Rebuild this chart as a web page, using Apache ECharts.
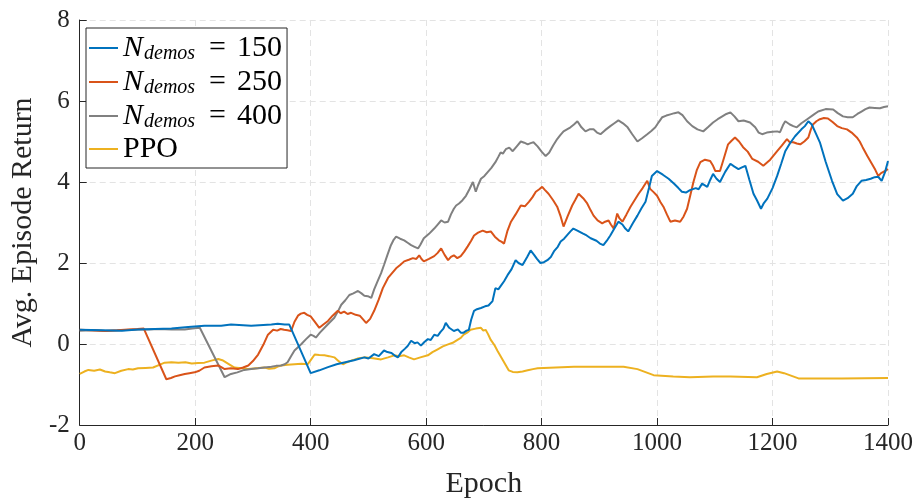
<!DOCTYPE html>
<html>
<head>
<meta charset="utf-8">
<script src="https://cdn.jsdelivr.net/npm/echarts@6/dist/echarts.min.js"></script>
<style>
html,body{margin:0;padding:0;background:#fff;}
#chart{width:920px;height:504px;}
</style>
</head>
<body>
<div id="chart"></div>
<script>
const xTicks = [0, 200, 400, 600, 800, 1000, 1200, 1400];
const yTicks = [-2, 0, 2, 4, 6, 8];
const seriesLabels = ['150', '250', '400', 'PPO'];

const demos150 = [[0,0.35],[40,0.34],[73,0.33],[101,0.36],[130,0.37],[159,0.38],[188,0.42],[216,0.45],[245,0.45],[262,0.48],[297,0.45],[332,0.48],[343,0.50],[355,0.48],[363,0.48],[400,-0.72],[415,-0.65],[430,-0.57],[445,-0.50],[460,-0.45],[475,-0.40],[493,-0.33],[500,-0.36],[510,-0.25],[518,-0.30],[527,-0.16],[533,-0.20],[540,-0.22],[545,-0.28],[551,-0.33],[557,-0.20],[563,-0.12],[568,-0.05],[574,0.08],[580,0.02],[585,0.04],[591,-0.04],[597,0.05],[603,0.12],[608,0.10],[614,0.23],[620,0.20],[625,0.30],[630,0.38],[634,0.52],[640,0.40],[648,0.32],[655,0.36],[660,0.28],[665,0.28],[670,0.33],[674,0.35],[678,0.60],[683,0.82],[688,0.86],[695,0.89],[702,0.93],[708,0.95],[715,1.06],[720,1.38],[725,1.35],[729,1.43],[735,1.55],[741,1.70],[748,1.85],[755,2.07],[760,2.00],[767,1.95],[771,2.05],[775,2.15],[781,2.31],[787,2.20],[792,2.10],[798,2.00],[804,2.02],[810,2.07],[816,2.15],[822,2.30],[828,2.40],[833,2.53],[839,2.60],[845,2.70],[850,2.78],[855,2.85],[862,2.80],[871,2.73],[878,2.68],[885,2.61],[890,2.58],[895,2.55],[901,2.48],[907,2.44],[913,2.55],[919,2.68],[926,2.85],[933,3.02],[940,2.95],[945,2.85],[950,2.78],[958,2.98],[966,3.17],[973,3.35],[980,3.51],[986,3.85],[991,4.15],[1000,4.27],[1010,4.18],[1020,4.08],[1030,3.95],[1037,3.85],[1043,3.76],[1050,3.74],[1057,3.80],[1067,3.85],[1072,3.82],[1078,3.96],[1087,3.88],[1092,4.05],[1097,4.20],[1103,4.08],[1109,4.00],[1118,4.25],[1127,4.45],[1134,4.38],[1141,4.32],[1147,4.36],[1153,4.40],[1160,4.05],[1167,3.71],[1173,3.55],[1180,3.34],[1185,3.48],[1191,3.59],[1200,3.85],[1208,4.15],[1215,4.45],[1222,4.76],[1230,4.95],[1239,5.13],[1250,5.30],[1256,5.38],[1262,5.50],[1268,5.42],[1275,5.20],[1282,4.98],[1292,4.50],[1303,4.03],[1312,3.70],[1322,3.54],[1330,3.60],[1339,3.71],[1346,3.90],[1354,4.03],[1362,4.05],[1370,4.08],[1377,4.12],[1383,4.13],[1389,4.03],[1395,4.25],[1400,4.52]];

const demos250 = [[0,0.35],[20,0.34],[44,0.32],[65,0.34],[84,0.36],[100,0.37],[111,0.38],[150,-0.87],[158,-0.84],[165,-0.80],[173,-0.77],[182,-0.74],[190,-0.72],[199,-0.70],[207,-0.66],[216,-0.58],[228,-0.55],[240,-0.53],[251,-0.62],[262,-0.60],[274,-0.62],[283,-0.58],[292,-0.53],[300,-0.42],[309,-0.26],[318,-0.02],[326,0.23],[335,0.35],[342,0.33],[348,0.37],[354,0.35],[360,0.34],[366,0.32],[372,0.55],[378,0.70],[383,0.75],[389,0.77],[394,0.72],[400,0.68],[407,0.55],[415,0.40],[422,0.48],[430,0.57],[438,0.70],[447,0.82],[452,0.76],[458,0.80],[464,0.74],[470,0.77],[478,0.72],[485,0.70],[490,0.62],[496,0.52],[503,0.62],[510,0.82],[518,1.10],[525,1.38],[534,1.63],[541,1.75],[548,1.87],[555,1.95],[562,2.04],[570,2.08],[577,2.12],[583,2.10],[588,2.19],[592,2.10],[596,2.04],[605,2.10],[614,2.17],[620,2.25],[626,2.36],[632,2.20],[638,2.07],[643,2.15],[648,2.19],[654,2.12],[660,2.17],[666,2.28],[672,2.41],[678,2.55],[683,2.68],[690,2.75],[698,2.80],[705,2.76],[712,2.78],[719,2.65],[726,2.56],[731,2.52],[735,2.48],[741,2.80],[747,3.02],[755,3.20],[764,3.42],[771,3.40],[778,3.51],[784,3.62],[790,3.76],[796,3.82],[801,3.88],[806,3.80],[812,3.71],[820,3.55],[827,3.39],[833,3.15],[838,2.90],[845,3.15],[853,3.42],[858,3.55],[864,3.71],[872,3.60],[879,3.47],[885,3.30],[890,3.17],[897,3.05],[905,2.98],[910,3.02],[916,3.05],[920,2.95],[925,2.85],[931,3.22],[935,3.10],[940,3.02],[947,3.20],[954,3.39],[961,3.55],[968,3.71],[975,3.85],[983,4.03],[988,3.83],[994,3.75],[1000,3.66],[1006,3.50],[1011,3.39],[1017,3.20],[1023,3.02],[1031,3.05],[1040,3.02],[1046,3.15],[1052,3.34],[1058,3.70],[1063,4.00],[1069,4.30],[1075,4.49],[1083,4.55],[1092,4.52],[1097,4.40],[1101,4.27],[1109,4.27],[1116,4.60],[1123,4.93],[1129,5.02],[1135,5.10],[1142,5.00],[1149,4.86],[1157,4.75],[1165,4.57],[1175,4.50],[1184,4.40],[1196,4.55],[1208,4.76],[1216,4.90],[1225,5.06],[1230,4.98],[1236,4.98],[1242,4.95],[1248,4.93],[1255,5.00],[1262,5.10],[1266,5.28],[1270,5.42],[1276,5.50],[1282,5.55],[1289,5.58],[1296,5.57],[1304,5.48],[1312,5.38],[1320,5.33],[1329,5.30],[1337,5.22],[1346,5.10],[1351,5.00],[1356,4.86],[1364,4.65],[1372,4.45],[1378,4.30],[1383,4.15],[1388,4.22],[1392,4.25],[1396,4.28],[1400,4.32]];

const demos400 = [[0,0.33],[22,0.34],[44,0.32],[70,0.34],[101,0.36],[120,0.36],[136,0.37],[159,0.36],[182,0.36],[195,0.38],[208,0.40],[251,-0.82],[262,-0.74],[273,-0.70],[285,-0.64],[297,-0.62],[309,-0.60],[320,-0.58],[332,-0.56],[340,-0.54],[349,-0.53],[355,-0.50],[360,-0.45],[366,-0.30],[372,-0.16],[378,-0.08],[384,0.0],[392,0.12],[400,0.23],[405,0.20],[409,0.16],[416,0.28],[424,0.40],[432,0.52],[441,0.65],[447,0.80],[453,0.97],[460,1.08],[467,1.21],[474,1.25],[482,1.31],[488,1.25],[493,1.19],[499,1.18],[505,1.14],[510,1.35],[516,1.55],[522,1.75],[527,1.95],[533,2.20],[539,2.44],[544,2.58],[548,2.65],[555,2.60],[562,2.56],[568,2.50],[574,2.44],[580,2.40],[586,2.36],[590,2.45],[596,2.61],[605,2.72],[614,2.85],[620,2.95],[626,3.05],[632,3.00],[638,3.02],[643,3.20],[648,3.34],[652,3.42],[657,3.47],[663,3.55],[669,3.66],[675,3.82],[681,4.00],[686,3.76],[690,3.92],[695,4.08],[701,4.15],[707,4.25],[713,4.35],[720,4.49],[725,4.62],[729,4.73],[733,4.70],[738,4.81],[744,4.85],[750,4.76],[757,4.88],[764,5.00],[770,4.97],[776,4.93],[781,4.96],[786,4.98],[793,4.88],[800,4.75],[807,4.64],[813,4.72],[820,4.90],[827,5.06],[832,5.15],[838,5.25],[844,5.30],[850,5.35],[856,5.42],[862,5.50],[869,5.35],[876,5.25],[883,5.30],[890,5.30],[896,5.22],[902,5.18],[910,5.28],[919,5.38],[926,5.45],[933,5.52],[941,5.45],[949,5.35],[957,5.18],[966,5.00],[974,5.08],[983,5.18],[990,5.26],[997,5.35],[1003,5.48],[1009,5.60],[1016,5.64],[1023,5.67],[1030,5.70],[1037,5.72],[1044,5.65],[1052,5.50],[1061,5.38],[1070,5.30],[1080,5.25],[1088,5.35],[1097,5.47],[1105,5.55],[1113,5.62],[1120,5.68],[1127,5.72],[1134,5.62],[1141,5.50],[1150,5.52],[1161,5.47],[1170,5.35],[1176,5.22],[1182,5.18],[1190,5.22],[1200,5.24],[1208,5.25],[1213,5.23],[1218,5.40],[1222,5.50],[1230,5.42],[1236,5.38],[1242,5.35],[1250,5.45],[1260,5.55],[1270,5.65],[1279,5.74],[1292,5.80],[1305,5.79],[1313,5.70],[1322,5.62],[1330,5.60],[1339,5.60],[1347,5.68],[1354,5.74],[1361,5.80],[1368,5.84],[1377,5.83],[1386,5.82],[1393,5.85],[1400,5.87]];

const ppo = [[0,-0.74],[8,-0.68],[15,-0.64],[25,-0.66],[35,-0.63],[44,-0.68],[52,-0.70],[61,-0.72],[72,-0.66],[84,-0.62],[92,-0.63],[101,-0.60],[114,-0.59],[127,-0.58],[137,-0.52],[147,-0.46],[159,-0.45],[171,-0.46],[183,-0.45],[194,-0.48],[205,-0.47],[216,-0.46],[228,-0.41],[240,-0.37],[247,-0.40],[254,-0.46],[261,-0.52],[268,-0.58],[280,-0.60],[292,-0.62],[306,-0.60],[320,-0.58],[328,-0.61],[337,-0.60],[343,-0.56],[349,-0.53],[360,-0.51],[372,-0.50],[384,-0.49],[395,-0.50],[401,-0.38],[407,-0.26],[415,-0.27],[424,-0.28],[432,-0.30],[441,-0.33],[449,-0.43],[456,-0.50],[463,-0.45],[470,-0.41],[481,-0.36],[493,-0.33],[508,-0.35],[522,-0.38],[534,-0.33],[545,-0.28],[553,-0.30],[562,-0.28],[570,-0.33],[579,-0.38],[590,-0.33],[603,-0.28],[611,-0.20],[620,-0.13],[629,-0.06],[638,-0.01],[646,0.03],[655,0.11],[660,0.15],[665,0.23],[671,0.28],[677,0.35],[686,0.38],[695,0.40],[699,0.33],[703,0.35],[707,0.25],[712,0.10],[718,-0.02],[724,-0.18],[733,-0.40],[743,-0.65],[750,-0.69],[758,-0.70],[767,-0.68],[776,-0.65],[785,-0.62],[793,-0.60],[856,-0.56],[942,-0.56],[966,-0.62],[994,-0.77],[1028,-0.80],[1057,-0.82],[1097,-0.80],[1127,-0.80],[1173,-0.82],[1190,-0.74],[1208,-0.68],[1220,-0.72],[1245,-0.85],[1320,-0.85],[1400,-0.84]];

const colors = ['#0072BD', '#D95319', '#808080', '#EDB120'];
const dataSets = [demos150, demos250, demos400, ppo];

const FONT = 'Liberation Serif';
const axisColor = '#262626';

const chart = echarts.init(document.getElementById('chart'), null, {renderer: 'canvas'});

const series = dataSets.map((d, i) => ({
  name: seriesLabels[i],
  type: 'line',
  data: d,
  showSymbol: false,
  symbol: 'none',
  lineStyle: {color: colors[i], width: 2},
  itemStyle: {color: colors[i]},
  animation: false,
  z: 10 - i
}));

chart.setOption({
  animation: false,
  backgroundColor: '#fff',
  grid: {left: 78, right: 32, top: 20, bottom: 76, containLabel: false},
  legend: {
    orient: 'vertical',
    left: 86,
    top: 28,
    padding: [4, 5, 4, 3],
    itemGap: 2,
    itemWidth: 29,
    itemHeight: 2,
    icon: 'rect',
    backgroundColor: '#fff',
    borderColor: axisColor,
    borderWidth: 1,
    borderRadius: 0,
    data: seriesLabels.map((n, i) => ({name: n, icon: 'rect', itemStyle: {color: colors[i]}})),
    formatter: function (name) {
      if (name === 'PPO') return '{r|PPO}';
      return '{i|N}{s|demos}{e|=}{r|' + name + '}';
    },
    textStyle: {
      fontFamily: FONT,
      color: '#000',
      lineHeight: 30,
      rich: {
        i: {fontFamily: FONT, fontStyle: 'italic', fontSize: 30, color: '#000', lineHeight: 30},
        s: {fontFamily: FONT, fontStyle: 'italic', fontSize: 20, color: '#000', padding: [12, 0, 0, 1], lineHeight: 30},
        e: {fontFamily: FONT, fontSize: 30, color: '#000', lineHeight: 30, padding: [0, 11, 0, 14]},
        r: {fontFamily: FONT, fontSize: 30, color: '#000', lineHeight: 30}
      }
    }
  },
  xAxis: {
    type: 'value',
    min: xTicks[0],
    max: xTicks[xTicks.length - 1],
    interval: 200,
    name: 'Epoch',
    nameLocation: 'middle',
    nameGap: 44,
    nameTextStyle: {fontFamily: FONT, fontSize: 30, color: axisColor},
    axisLine: {show: true, onZero: false, lineStyle: {color: axisColor, width: 1}},
    axisTick: {show: true, inside: true, length: 7, lineStyle: {color: axisColor}},
    axisLabel: {fontFamily: FONT, fontSize: 25, color: axisColor, margin: 6, formatter: v => String(v)},
    splitLine: {show: true, lineStyle: {color: '#e3e3e3', type: [6, 4], width: 1}}
  },
  yAxis: {
    type: 'value',
    min: yTicks[0],
    max: yTicks[yTicks.length - 1],
    interval: 2,
    name: 'Avg. Episode Return',
    nameLocation: 'middle',
    nameGap: 40,
    nameTextStyle: {fontFamily: FONT, fontSize: 30, color: axisColor},
    axisLine: {show: true, onZero: false, lineStyle: {color: axisColor, width: 1}},
    axisTick: {show: true, inside: true, length: 7, lineStyle: {color: axisColor}},
    axisLabel: {fontFamily: FONT, fontSize: 25, color: axisColor, margin: 10, formatter: v => String(v)},
    splitLine: {show: true, lineStyle: {color: '#e3e3e3', type: [6, 4], width: 1}}
  },
  series: series
});
</script>
</body>
</html>
